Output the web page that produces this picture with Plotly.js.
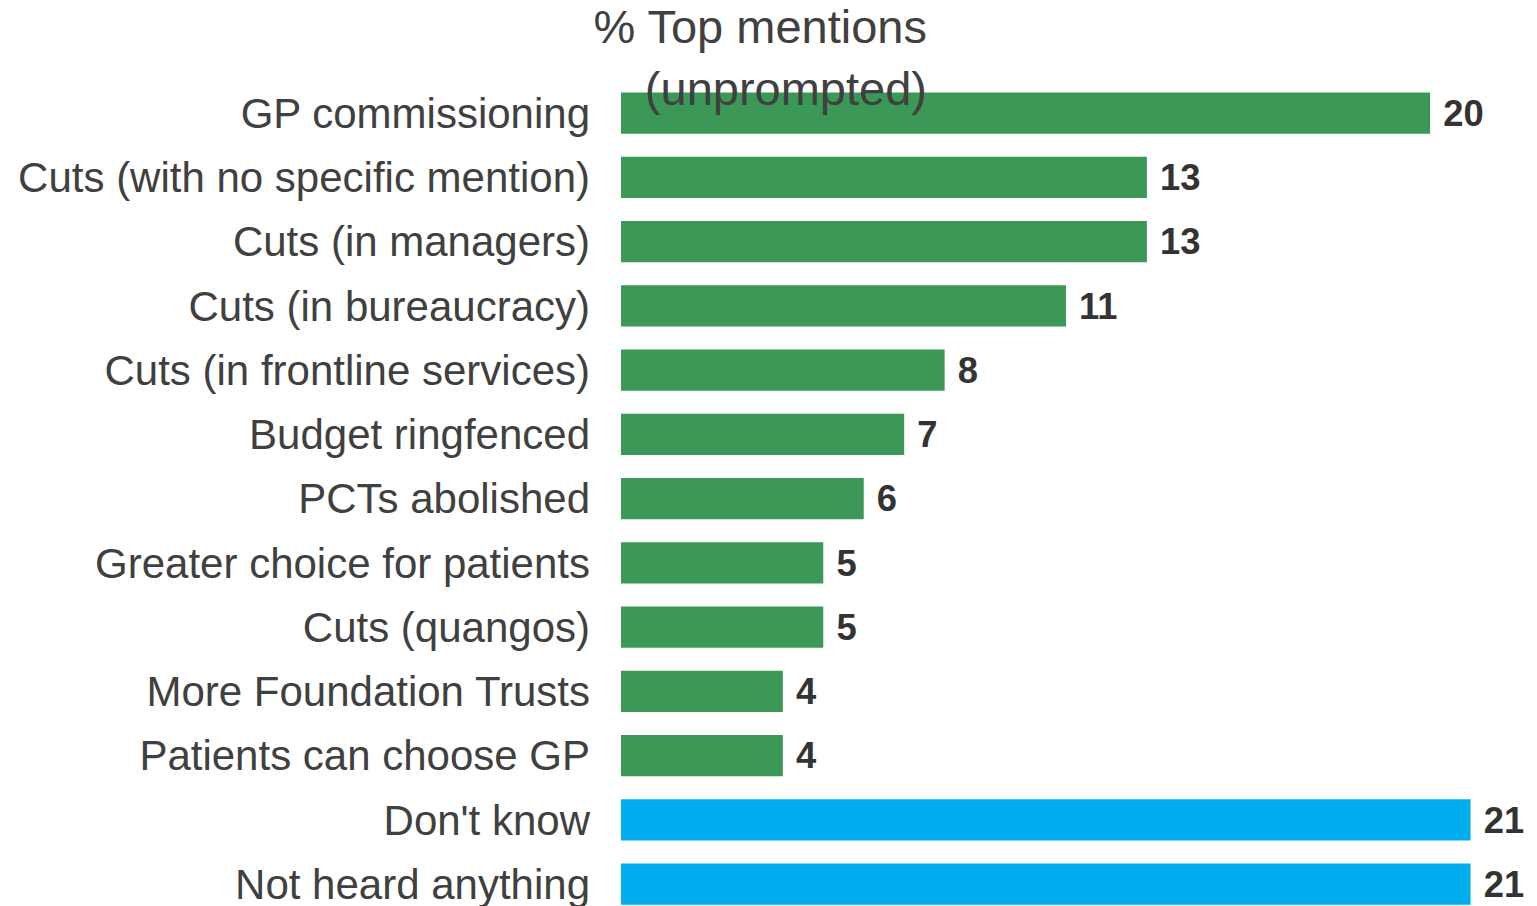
<!DOCTYPE html>
<html>
<head>
<meta charset="utf-8">
<script src="https://cdn.plot.ly/plotly-3.0.1.min.js"></script>
<style>html,body{margin:0;padding:0;background:#fff;}#chart{width:1537px;height:906px;}</style>
</head>
<body>
<div id="chart"></div>
<script>
const mentionCategories = [
  "GP commissioning",
  "Cuts (with no specific mention)",
  "Cuts (in managers)",
  "Cuts (in bureaucracy)",
  "Cuts (in frontline services)",
  "Budget ringfenced",
  "PCTs abolished",
  "Greater choice for patients",
  "Cuts (quangos)",
  "More Foundation Trusts",
  "Patients can choose GP"
];
const mentionValues = [20, 13, 13, 11, 8, 7, 6, 5, 5, 4, 4];
const noneCategories = ["Don't know", "Not heard anything"];
const noneValues = [21, 21];
const allCategories = mentionCategories.concat(noneCategories);
const chartTitle = "% Top mentions<br>(unprompted)";

const FONT = "Liberation Sans, Arial, sans-serif";
const common = {
  type: "bar",
  orientation: "h",
  width: 0.64,
  textposition: "outside",
  texttemplate: "\u00a0%{x}",
  cliponaxis: false,
  textfont: {family: FONT, size: 46, color: "#333333", weight: "bold"},
  hoverinfo: "skip"
};
const traces = [
  Object.assign({}, common, {
    y: mentionCategories, x: mentionValues,
    marker: {color: "#3C9856"}
  }),
  Object.assign({}, common, {
    y: noneCategories, x: noneValues,
    marker: {color: "#00AEEF"}
  })
];
const layout = {
  width: 1537, height: 906,
  margin: {l: 621, r: 26, t: 81, b: 0, pad: 0},
  paper_bgcolor: "#ffffff", plot_bgcolor: "#ffffff",
  showlegend: false,
  title: {
    text: chartTitle,
    font: {family: FONT, size: 47, color: "#404040"},
    x: 927 / 1537, xanchor: "right", xref: "container",
    y: 0.952, yanchor: "top", yref: "container"
  },
  xaxis: {range: [0, 22], visible: false, fixedrange: true},
  yaxis: {
    type: "category",
    categoryorder: "array", categoryarray: allCategories,
    range: [12.34, -0.5],
    showgrid: false, zeroline: false, showline: false,
    ticks: "", ticklabelstandoff: 30,
    tickfont: {family: FONT, size: 42, color: "#404040"},
    fixedrange: true
  },
  bargap: 0.36
};
Plotly.newPlot("chart", traces, layout, {displayModeBar: false, staticPlot: true});
</script>
</body>
</html>
